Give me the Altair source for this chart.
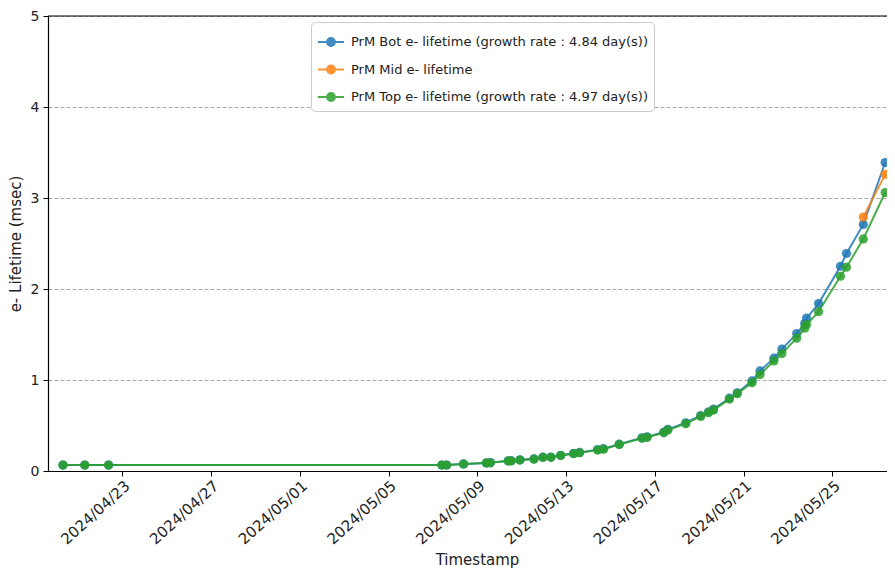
import altair as alt
import pandas as pd

# ---- data ----
times = [
    "2024-04-20T07:40", "2024-04-21T07:15", "2024-04-22T09:00",
    "2024-05-07T09:30", "2024-05-07T14:40", "2024-05-08T09:00",
    "2024-05-09T09:40", "2024-05-09T14:00", "2024-05-10T09:20",
    "2024-05-10T12:30", "2024-05-10T22:00", "2024-05-11T13:10",
    "2024-05-11T22:50", "2024-05-12T07:30", "2024-05-12T18:00",
    "2024-05-13T08:00", "2024-05-13T14:30", "2024-05-14T10:00",
    "2024-05-14T16:20", "2024-05-15T09:20", "2024-05-16T10:00",
    "2024-05-16T15:30", "2024-05-17T09:40", "2024-05-17T14:00",
    "2024-05-18T09:20", "2024-05-19T01:30", "2024-05-19T10:00",
    "2024-05-19T15:20", "2024-05-20T08:30", "2024-05-20T17:00",
    "2024-05-21T09:00", "2024-05-21T17:40", "2024-05-22T08:40",
    "2024-05-22T17:20", "2024-05-23T09:20", "2024-05-23T18:00",
    "2024-05-23T20:00", "2024-05-24T09:00", "2024-05-25T08:40",
    "2024-05-25T15:10", "2024-05-26T09:20", "2024-05-27T09:00",
]
bot_values = [
    0.065, 0.065, 0.065, 0.066, 0.066, 0.078, 0.089, 0.092, 0.112, 0.113,
    0.123, 0.134, 0.152, 0.153, 0.173, 0.194, 0.204, 0.235, 0.245, 0.295,
    0.365, 0.375, 0.428, 0.458, 0.53, 0.61, 0.65, 0.68, 0.80, 0.86,
    0.99, 1.10, 1.24, 1.34, 1.51, 1.62, 1.68, 1.84, 2.25, 2.39,
    2.71, 3.39,
]
top_values = [
    0.065, 0.065, 0.065, 0.065, 0.065, 0.076, 0.087, 0.09, 0.11, 0.11,
    0.12, 0.13, 0.15, 0.15, 0.17, 0.19, 0.20, 0.23, 0.24, 0.29,
    0.36, 0.37, 0.42, 0.45, 0.52, 0.60, 0.64, 0.67, 0.79, 0.85,
    0.97, 1.06, 1.21, 1.29, 1.46, 1.57, 1.61, 1.75, 2.14, 2.24,
    2.55, 3.06,
]
mid_times = ["2024-05-26T09:20", "2024-05-27T09:00"]
mid_values = [2.79, 3.26]

series_names = [
    "PrM Bot e- lifetime (growth rate : 4.84 day(s))",
    "PrM Mid e- lifetime",
    "PrM Top e- lifetime (growth rate : 4.97 day(s))",
]
series_colors = ["#1f77b4", "#ff7f0e", "#2ca02c"]
tick_dates = [(4, 23), (4, 27), (5, 1), (5, 5), (5, 9), (5, 13), (5, 17), (5, 21), (5, 25)]
y_ticks = [0, 1, 2, 3, 4, 5]

rows = []
for t, v in zip(times, bot_values):
    rows.append({"t": t, "v": v, "s": series_names[0]})
for t, v in zip(mid_times, mid_values):
    rows.append({"t": t, "v": v, "s": series_names[1]})
for t, v in zip(times, top_values):
    rows.append({"t": t, "v": v, "s": series_names[2]})
df = pd.DataFrame(rows)

FONT = "DejaVu Sans"

x_enc = alt.X(
    "t:T",
    title="Timestamp",
    scale=alt.Scale(domain=[
        alt.DateTime(year=2024, month=4, date=19, hours=15, minutes=30),
        alt.DateTime(year=2024, month=5, date=27, hours=11),
    ]),
    axis=alt.Axis(
        values=[alt.DateTime(year=2024, month=m, date=d) for m, d in tick_dates],
        format="%Y/%m/%d",
        labelAngle=-42,
        labelAlign="right",
        labelBaseline="top",
        labelPadding=2,
        labelFontSize=15,
        labelColor="#222",
        grid=False,
        tickSize=5,
        tickColor="black",
        domainColor="black",
        domainWidth=1.2,
        titleFontSize=15,
        titleFontWeight="normal",
        titleColor="#222",
        titleX=429,
        titlePadding=6,
    ),
)
y_enc = alt.Y(
    "v:Q",
    title="e- Lifetime (msec)",
    scale=alt.Scale(domain=[0, 5], nice=False),
    axis=alt.Axis(
        values=y_ticks,
        format="d",
        labelFontSize=14,
        labelColor="#222",
        labelPadding=4,
        grid=True,
        gridDash=[4, 2],
        gridColor="#aaaaaa",
        gridWidth=1,
        tickSize=5,
        tickColor="black",
        domainColor="black",
        domainWidth=1.2,
        titleFontSize=15,
        titleFontWeight="normal",
        titleColor="#222",
        titlePadding=7,
    ),
)

legend_symbol = (
    "M-1,0H1"
    "M-0.3,0A0.3,0.3,0,1,0,0.3,0A0.3,0.3,0,1,0,-0.3,0"
    "M-0.18,0A0.18,0.18,0,1,0,0.18,0A0.18,0.18,0,1,0,-0.18,0"
    "M-0.06,0A0.06,0.06,0,1,0,0.06,0A0.06,0.06,0,1,0,-0.06,0"
)

color_enc = alt.Color(
    "s:N",
    scale=alt.Scale(domain=series_names, range=series_colors),
    legend=alt.Legend(
        title=None,
        orient="none",
        legendX=263,
        legendY=6,
        symbolType=legend_symbol,
        symbolSize=676,
        symbolStrokeWidth=2,
        labelFontSize=13,
        labelFont=FONT,
        labelColor="#222",
        labelLimit=500,
        labelOffset=6,
        rowPadding=5.5,
        padding=6,
        fillColor="white",
        strokeColor="#cccccc",
        cornerRadius=4,
    ),
)

layers = []
for name in series_names:
    base = alt.Chart(df).transform_filter(alt.datum.s == name)
    line = base.mark_line(strokeWidth=2, opacity=0.85).encode(x=x_enc, y=y_enc, color=color_enc)
    pts = base.mark_circle(size=85, opacity=0.85).encode(x=x_enc, y=y_enc, color=color_enc)
    layers += [line, pts]

top_spine = alt.Chart(pd.DataFrame({"y": [5]})).mark_rule(color="black", strokeWidth=1.2).encode(
    y=alt.Y("y:Q", scale=alt.Scale(domain=[0, 5], nice=False))
)

chart = alt.layer(*layers, top_spine).properties(
    width=839,
    height=455,
    autosize=alt.AutoSizeParams(type="none"),
    padding={"left": 40, "top": 8, "right": 0, "bottom": 100},
    background="white",
).configure(
    font=FONT,
).configure_view(stroke=None)

chart.save("out.html", embed_options={"renderer": "svg", "actions": False})
